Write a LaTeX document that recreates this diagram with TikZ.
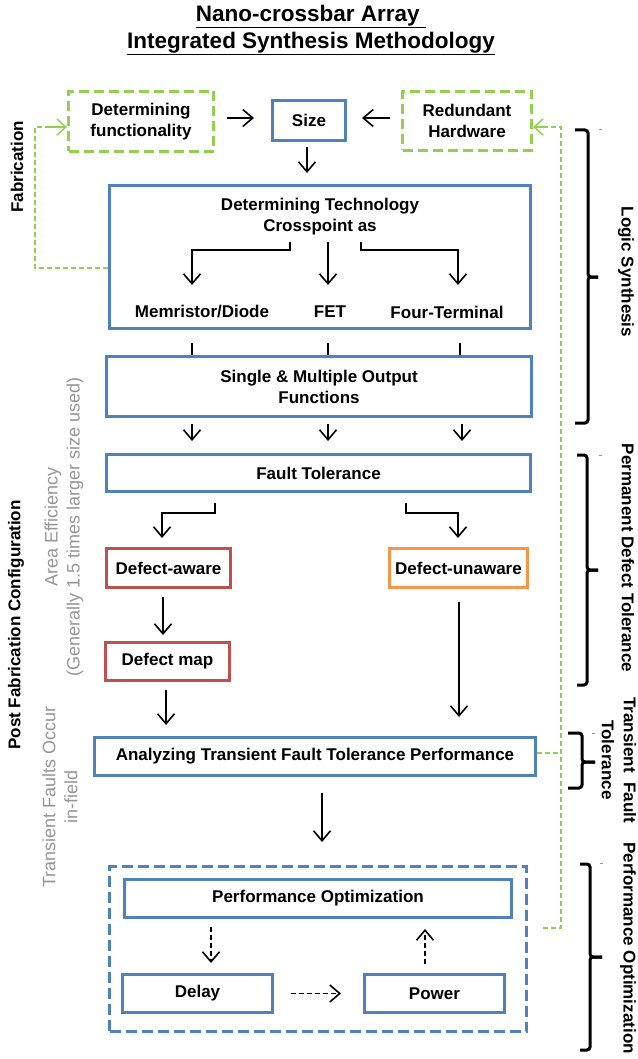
\documentclass[tikz,border=0pt]{standalone}
\usepackage{fontspec}
\setmainfont{Liberation Sans}
\usetikzlibrary{arrows.meta}
\definecolor{bblue}{RGB}{79,129,189}
\definecolor{rred}{RGB}{192,80,77}
\definecolor{oorange}{RGB}{247,150,70}
\definecolor{ggreen}{RGB}{146,208,80}
\definecolor{ggray}{RGB}{150,150,150}
\begin{document}
\begin{tikzpicture}[x=1pt,y=-1pt,
  bft/.style={font=\bfseries\fontsize{17}{21}\selectfont},
  box/.style={draw, line width=3pt, fill=white, inner sep=0pt, bft, align=center},
  bluebox/.style={box, draw=bblue},
  redbox/.style={box, draw=rred},
  orangebox/.style={box, draw=oorange},
  greenbox/.style={box, draw=ggreen, dash pattern=on 10pt off 5pt},
  lbl/.style={inner sep=0pt, bft, align=center},
  graylbl/.style={inner sep=0pt, text=ggray, font=\fontsize{18}{22}\selectfont, align=center},
  arr/.style={line width=1.6pt, -{Straight Barb[length=10pt,width=17pt,line width=1.6pt]}},
  darr/.style={arr, dash pattern=on 5pt off 3pt},
  garr/.style={draw=ggreen, line width=1.4pt, dash pattern=on 5pt off 3pt},
  garrh/.style={draw=ggreen, line width=1.4pt, -{Straight Barb[length=9pt,width=16pt,line width=1.4pt]}},
  brace/.style={line width=3pt, rounded corners=3pt},
  tick/.style={draw=ggray, line width=1pt}
]
\useasboundingbox[fill=white] (0,0) rectangle (637,1059);

% title
\node[inner sep=0pt, align=center, font=\bfseries\fontsize{22.5}{27}\selectfont] (title) at (311,30)
  {\underline{Nano-crossbar Array\ }\\ \underline{Integrated Synthesis Methodology}};

% top row
\node[greenbox, minimum width=145pt, minimum height=60pt] (detf) at (141,121.5) {Determining\\functionality};
\node[bluebox, minimum width=73pt, minimum height=40pt] (size) at (309,120.5) {Size};
\node[greenbox, minimum width=129pt, minimum height=59pt] (redh) at (467,121) {Redundant\\Hardware};

\draw[arr] ([xshift=12pt,yshift=3.5pt]detf.east) -- ([xshift=-17pt,yshift=2.5pt]size.west);
\draw[arr] ([xshift=-11pt,yshift=3pt]redh.west) -- ([xshift=15pt,yshift=2.5pt]size.east);

% technology box
\node[bluebox, minimum width=421pt, minimum height=143pt] (tech) at (320,257) {};
\draw[arr] ([xshift=-2pt,yshift=-5pt]size.south) -- ([xshift=-2pt,yshift=11pt]size.south |- tech.north);
\node[lbl] (techt) at (320,216.5) {Determining Technology\\Crosspoint as};
\node[lbl] (mem) at (202,312) {Memristor/Diode};
\node[lbl] (fet) at (330,312) {FET};
\node[lbl] (four) at (447,312) {Four-Terminal};
\coordinate (b1) at (290,242);
\coordinate (b2) at (328,242);
\coordinate (b3) at (361,242);
\coordinate (e1) at (192,285);
\coordinate (e2) at (328,285);
\coordinate (e3) at (458,285);
\draw[arr] (b1) -- (290,250) -| (e1);
\draw[arr] (b2) -- (e2);
\draw[arr] (b3) -- (361,250) -| (e3);

% single & multiple output
\node[bluebox, minimum width=425pt, minimum height=60pt] (smo) at (319,386.5) {Single \& Multiple Output\\Functions};
\draw[line width=1.6pt] (192,343) -- (192,355);
\draw[line width=1.6pt] (328,343) -- (328,355);
\draw[line width=1.6pt] (460,343) -- (460,355);

% fault tolerance
\node[bluebox, minimum width=424pt, minimum height=37pt] (ft) at (318.5,473) {Fault Tolerance};
\draw[arr] (192,424) -- (192,441);
\draw[arr] (328,424) -- (328,441);
\draw[arr] (462,424) -- (462,441);

\node[redbox, minimum width=124pt, minimum height=39pt] (daw) at (168.5,568) {Defect-aware};
\node[orangebox, minimum width=138pt, minimum height=39pt] (dun) at (458.5,568) {Defect-unaware};
\node[redbox, minimum width=124pt, minimum height=38pt] (dmap) at (167.5,661.5) {Defect map};

\draw[arr] (215,503) -- (215,513) -| (162,538);
\draw[arr] (406,503) -- (406,513) -| (458,538);
\draw[arr] ([xshift=-5.5pt,yshift=-8pt]daw.south) -- ([xshift=-4.5pt,yshift=6pt]dmap.north);

% analyzing
\node[bluebox, minimum width=441pt, minimum height=38pt] (atf) at (315,756.5) {Analyzing Transient Fault Tolerance Performance};
\draw[arr] ([xshift=-1.5pt,yshift=-8pt]dmap.south) -- ([xshift=-149pt,yshift=11pt]atf.north);
\draw[arr] ([xshift=0.5pt,yshift=-13pt]dun.south) -- ([xshift=144pt,yshift=19pt]atf.north);

% performance group
\node[draw=bblue, line width=3pt, dash pattern=on 11pt off 5pt, minimum width=417pt, minimum height=165pt, inner sep=0pt] (grp) at (318,949) {};
\draw[arr] ([xshift=7pt,yshift=-16pt]atf.south) -- ([xshift=4pt,yshift=23pt]grp.north);
\node[bluebox, minimum width=387pt, minimum height=38pt] (perf) at (318,898.5) {Performance Optimization};
\node[bluebox, minimum width=150pt, minimum height=38pt] (delay) at (197.5,993.5) {Delay};
\node[bluebox, minimum width=140pt, minimum height=38pt] (power) at (434.5,993.5) {Power};
\draw[darr] ([yshift=-8pt]perf.south -| 211,0) -- ([yshift=10pt]delay.north -| 211,0);
\draw[darr] ([xshift=17pt]delay.east) -- ([xshift=-22pt]power.west);
\draw[darr] ([yshift=9pt]power.north -| 425,0) -- ([yshift=-10pt]perf.south -| 425,0);

% green feedback lines
\draw[garr] (tech.west |- 0,268) -- (35,268) -- (35,127) -- (50,127);
\draw[garrh] (49,127) -- (detf.west |- 0,127);
\draw[garr] (543,928) -- (561,928) -- (561,127) -- (545,127);
\draw[garrh] (546,127) -- (redh.east |- 0,127);
\draw[garr] (atf.east |- 0,753) -- (561,753);

% braces
\draw[brace] (575,130) -- (588,130) -- (588,277) -- (598,277);
\draw[brace] (598,277) -- (588,277) -- (588,423) -- (575,423);
\draw[brace] (577,455) -- (587,455) -- (587,570) -- (598,570);
\draw[brace] (598,570) -- (587,570) -- (587,685) -- (577,685);
\draw[brace] (568,733) -- (582,733) -- (582,762) -- (595,762);
\draw[brace] (595,762) -- (582,762) -- (582,788) -- (568,788);
\draw[brace] (580,864) -- (590,864) -- (590,957) -- (602,957);
\draw[brace] (602,957) -- (590,957) -- (590,1050) -- (580,1050);
\draw[tick] (599,130) -- (602,130);
\draw[tick] (599,455) -- (602,455);
\draw[tick] (592,733) -- (595,733);
\draw[tick] (600,863) -- (603,863);

% right labels
\node[lbl, rotate=-90] (ls) at (626,272) {Logic Synthesis};
\node[lbl, rotate=-90] (pdt) at (628,558) {Permanent Defect Tolerance};
\node[lbl, rotate=-90, font=\bfseries\fontsize{17}{22}\selectfont] (tft) at (619,760) {Transient\ \ Fault\\Tolerance};
\node[lbl, rotate=-90] (po) at (628,948) {Performance Optimization};

% left labels
\node[lbl, rotate=90] (fab) at (17,167) {Fabrication};
\node[lbl, rotate=90] (pfc) at (16,625) {Post Fabrication Configuration};
\node[graylbl, rotate=90] (ae) at (64,527) {Area Efficiency\\(Generally 1.5 times larger size used)};
\node[graylbl, rotate=90] (tfo) at (60,797) {Transient Faults Occur\\in-field};
\end{tikzpicture}
\end{document}
